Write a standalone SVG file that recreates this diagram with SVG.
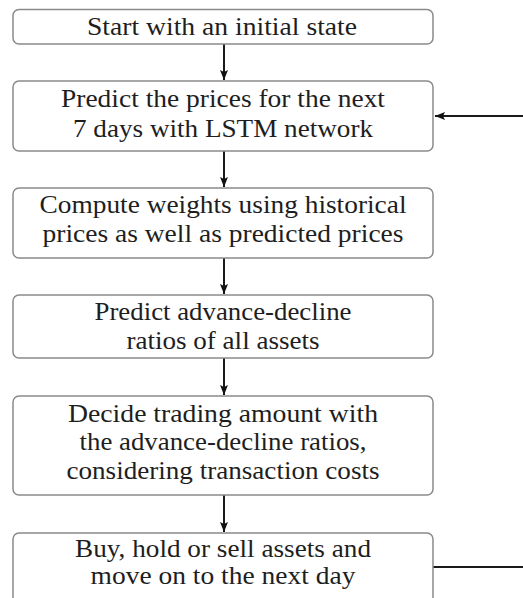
<svg xmlns="http://www.w3.org/2000/svg" width="523" height="598" viewBox="0 0 523 598">
  <defs>
    <marker id="arrow" markerUnits="userSpaceOnUse" markerWidth="11" markerHeight="9" refX="10" refY="4.5" orient="auto">
      <path d="M0,0.5 L10,4.5 L0,8.5 L2,4.5 z" fill="#111"/>
    </marker>
    <style>
      .box { fill: #fff; stroke: #8a8a8a; stroke-width: 1.5; }
      .label { font-family: "Liberation Serif", "Times New Roman", serif; font-size: 25px; fill: #1e1e1e; text-anchor: middle; }
      .edge { stroke: #1a1a1a; stroke-width: 2; fill: none; }
    </style>
  </defs>
  <rect width="523" height="598" fill="#fff"/>

  <g id="connectors">
    <line class="edge" x1="224" y1="44" x2="224" y2="80" marker-end="url(#arrow)"/>
    <line class="edge" x1="224" y1="151" x2="224" y2="187" marker-end="url(#arrow)"/>
    <line class="edge" x1="224" y1="258" x2="224" y2="294" marker-end="url(#arrow)"/>
    <line class="edge" x1="224" y1="358" x2="224" y2="395" marker-end="url(#arrow)"/>
    <line class="edge" x1="224" y1="495" x2="224" y2="532" marker-end="url(#arrow)"/>
    <line class="edge" x1="523" y1="116" x2="435" y2="116" marker-end="url(#arrow)"/>
    <line class="edge" x1="433" y1="567" x2="523" y2="567"/>
  </g>

  <g id="start">
    <rect class="box" x="13" y="9.5" width="420" height="34.5" rx="6"/>
    <text class="label" x="222" y="35" textLength="270" lengthAdjust="spacingAndGlyphs">Start with an initial state</text>
  </g>

  <g id="predict-prices">
    <rect class="box" x="13" y="81" width="420" height="70" rx="6"/>
    <text class="label" x="223" y="107" textLength="324" lengthAdjust="spacingAndGlyphs">Predict the prices for the next</text>
    <text class="label" x="223" y="137" textLength="300" lengthAdjust="spacingAndGlyphs">7 days with LSTM network</text>
  </g>

  <g id="compute-weights">
    <rect class="box" x="13" y="188" width="420" height="70" rx="6"/>
    <text class="label" x="223" y="213" textLength="367" lengthAdjust="spacingAndGlyphs">Compute weights using historical</text>
    <text class="label" x="223" y="242" textLength="361" lengthAdjust="spacingAndGlyphs">prices as well as predicted prices</text>
  </g>

  <g id="predict-ratios">
    <rect class="box" x="13" y="295" width="420" height="63" rx="6"/>
    <text class="label" x="223" y="320" textLength="257" lengthAdjust="spacingAndGlyphs">Predict advance-decline</text>
    <text class="label" x="223" y="349" textLength="193" lengthAdjust="spacingAndGlyphs">ratios of all assets</text>
  </g>

  <g id="decide-amount">
    <rect class="box" x="13" y="396" width="420" height="99" rx="6"/>
    <text class="label" x="223" y="422" textLength="310" lengthAdjust="spacingAndGlyphs">Decide trading amount with</text>
    <text class="label" x="223" y="450" textLength="287" lengthAdjust="spacingAndGlyphs">the advance-decline ratios,</text>
    <text class="label" x="223" y="479" textLength="313" lengthAdjust="spacingAndGlyphs">considering transaction costs</text>
  </g>

  <g id="trade">
    <rect class="box" x="13" y="533" width="420" height="80" rx="6"/>
    <text class="label" x="223" y="557" textLength="296" lengthAdjust="spacingAndGlyphs">Buy, hold or sell assets and</text>
    <text class="label" x="223" y="584" textLength="265" lengthAdjust="spacingAndGlyphs">move on to the next day</text>
  </g>
</svg>
